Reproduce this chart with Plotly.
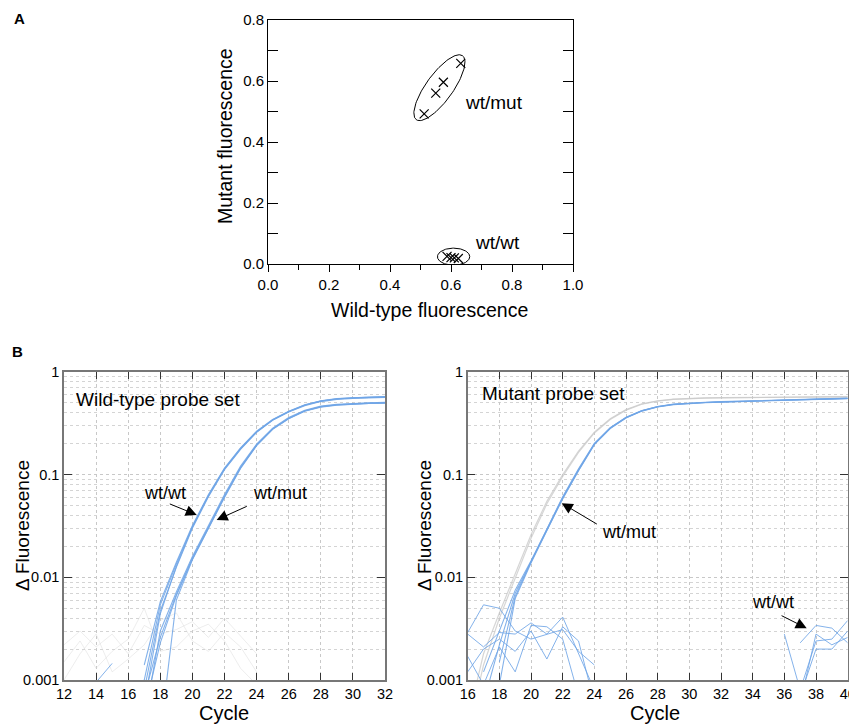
import math
import plotly.graph_objects as go

# ---------------- Panel A data ----------------
wtmut_x = [0.512, 0.550, 0.575, 0.632]
wtmut_y = [0.492, 0.560, 0.596, 0.658]
wtwt_x = [0.587, 0.600, 0.611, 0.624]
wtwt_y = [0.025, 0.021, 0.020, 0.018]

# ---------------- Panel B left (wild-type probe set) ----------------
left_cycles = list(range(12, 33))
left_wtwt = [
    [None, None, None, None, None, 0.0014, 0.0058, 0.0140, 0.032, 0.064, 0.116, 0.182, 0.265, 0.345, 0.415, 0.480, 0.525, 0.550, 0.563, 0.570, 0.575],
    [None, None, None, None, 0.0003, 0.0010, 0.0054, 0.0135, 0.031, 0.062, 0.113, 0.178, 0.260, 0.340, 0.410, 0.475, 0.520, 0.545, 0.558, 0.565, 0.570],
    [None, None, None, None, 0.0002, 0.0008, 0.0047, 0.0125, 0.030, 0.061, 0.112, 0.176, 0.258, 0.338, 0.408, 0.470, 0.515, 0.540, 0.553, 0.560, 0.566],
    [None, None, None, None, 0.0001, 0.0006, 0.0044, 0.0128, 0.031, 0.063, 0.115, 0.180, 0.262, 0.342, 0.412, 0.478, 0.522, 0.548, 0.560, 0.567, 0.572],
]
left_wtmut = [
    [None, None, None, None, 0.0001, 0.0007, 0.0026, 0.0068, 0.0155, 0.031, 0.062, 0.118, 0.195, 0.280, 0.355, 0.420, 0.460, 0.480, 0.490, 0.497, 0.500],
    [None, None, None, None, 0.0001, 0.0005, 0.0023, 0.0066, 0.0150, 0.030, 0.060, 0.115, 0.192, 0.276, 0.350, 0.414, 0.455, 0.476, 0.487, 0.494, 0.498],
    [None, None, None, None, 0.0002, 0.0004, 0.0030, 0.0072, 0.0160, 0.032, 0.064, 0.121, 0.198, 0.284, 0.360, 0.425, 0.465, 0.485, 0.495, 0.502, 0.506],
    [None, None, None, None, None, None, 0.0003, 0.0060, 0.0148, 0.030, 0.061, 0.116, 0.193, 0.278, 0.352, 0.417, 0.458, 0.478, 0.489, 0.495, 0.499],
]
left_noise_cycles = list(range(12, 25))
left_gray_noise = [
    [0.0022, 0.0030, 0.0021, 0.0028, 0.0018, 0.0034, 0.0028, 0.0031, 0.0037, 0.0026, 0.0040, 0.0027, 0.0018],
    [0.0015, 0.0024, 0.0013, 0.0019, 0.0025, 0.0050, 0.0019, 0.0021, 0.0030, 0.0035, 0.0024, 0.0013, 0.0009],
    [0.0010, 0.0018, 0.0028, 0.0012, 0.0016, 0.0022, 0.0038, 0.0045, 0.0024, 0.0019, 0.0029, 0.0021, 0.0012],
]
left_blue_noise_cycles = [14, 15]
left_blue_noise = [0.00095, 0.00145]

# ---------------- Panel B right (mutant probe set) ----------------
right_cycles = list(range(16, 41))
right_gray = [
    [0.0004, 0.0018, 0.0045, 0.011, 0.026, 0.055, 0.100, 0.170, 0.260, 0.350, 0.430, 0.490, 0.525, 0.545, 0.555, 0.560, 0.562, 0.565, 0.567, 0.569, 0.570, 0.572, 0.573, 0.575, 0.576],
    [0.0003, 0.0014, 0.0040, 0.010, 0.024, 0.052, 0.096, 0.165, 0.255, 0.345, 0.425, 0.485, 0.520, 0.541, 0.552, 0.557, 0.560, 0.563, 0.565, 0.567, 0.568, 0.570, 0.571, 0.572, 0.573],
]
right_wtmut = [
    [None, 0.0012, 0.0030, 0.0075, 0.0145, 0.030, 0.060, 0.112, 0.200, 0.285, 0.360, 0.420, 0.460, 0.485, 0.498, 0.505, 0.512, 0.518, 0.523, 0.528, 0.533, 0.538, 0.543, 0.548, 0.553],
    [None, 0.0006, 0.0022, 0.0070, 0.0140, 0.029, 0.058, 0.109, 0.196, 0.281, 0.356, 0.416, 0.456, 0.481, 0.494, 0.502, 0.509, 0.515, 0.520, 0.525, 0.530, 0.535, 0.540, 0.545, 0.550],
    [None, None, 0.0009, 0.0062, 0.0138, 0.029, 0.059, 0.110, 0.198, 0.283, 0.358, 0.418, 0.458, 0.483, 0.496, 0.504, 0.511, 0.517, 0.522, 0.527, 0.532, 0.537, 0.542, 0.547, 0.552],
    [None, None, 0.0015, 0.0065, 0.0142, 0.030, 0.061, 0.114, 0.202, 0.287, 0.362, 0.422, 0.462, 0.487, 0.500, 0.507, 0.514, 0.520, 0.525, 0.530, 0.535, 0.540, 0.545, 0.550, 0.556],
]
right_early_cycles = list(range(16, 25))
right_early_noise = [
    [0.0029, 0.0054, 0.0050, 0.0030, 0.0025, 0.0028, 0.0031, 0.0019, 0.0014],
    [0.0017, 0.0009, 0.0021, 0.0012, 0.0034, 0.0033, 0.0025, 0.0007, None],
    [0.0028, 0.0021, 0.0029, 0.0028, 0.0036, 0.0028, 0.0041, 0.0018, 0.0008],
    [0.0012, 0.0020, 0.0025, 0.0019, 0.0030, 0.0016, 0.0033, 0.0024, 0.0006],
]
right_late_cycles = list(range(36, 41))
right_late_noise = [
    [0.0028, 0.0008, 0.0024, 0.0025, 0.0038],
    [None, 0.0023, 0.0034, 0.0032, 0.0023],
    [0.0004, 0.0007, 0.0020, 0.0020, 0.0030],
    [None, 0.0006, 0.0028, 0.0022, 0.0026],
]

# ---------------- styles ----------------
PAGE_OFF = 8            # default body margin of the page
W, H = 857 - PAGE_OFF, 724 - PAGE_OFF
FONT = "Liberation Sans, Arial, Helvetica, sans-serif"
BLUE = "rgba(110,165,230,0.85)"
GRAYC = "rgba(200,200,200,0.75)"
FAINT = "rgba(215,215,215,0.45)"


def px_x(p):
    return (p - PAGE_OFF) / W


def px_y(p):
    return 1 - (p - PAGE_OFF) / H


fig = go.Figure()

# ---------- Panel A ----------
def ellipse(cx, cy, a, b, th, n=120):
    xs, ys = [], []
    for i in range(n + 1):
        t = 2 * math.pi * i / n
        xs.append(cx + a * math.cos(t) * math.cos(th) - b * math.sin(t) * math.sin(th))
        ys.append(cy + a * math.cos(t) * math.sin(th) + b * math.sin(t) * math.cos(th))
    return xs, ys

dx = wtmut_x[-1] - wtmut_x[0]
dy = wtmut_y[-1] - wtmut_y[0]
cx = (wtmut_x[0] + wtmut_x[-1]) / 2 - 0.01
cy = (wtmut_y[0] + wtmut_y[-1]) / 2 + 0.003
ex, ey = ellipse(cx, cy, math.hypot(dx, dy) / 2 + 0.027, 0.044, math.atan2(dy, dx))
fig.add_trace(go.Scatter(x=ex, y=ey, mode="lines", line=dict(color="black", width=1),
                         xaxis="x", yaxis="y", hoverinfo="skip", showlegend=False))
cx2 = sum(wtwt_x) / len(wtwt_x) + 0.003
cy2 = sum(wtwt_y) / len(wtwt_y) + 0.003
ex, ey = ellipse(cx2, cy2, 0.053, 0.028, 0.0)
fig.add_trace(go.Scatter(x=ex, y=ey, mode="lines", line=dict(color="black", width=1),
                         xaxis="x", yaxis="y", hoverinfo="skip", showlegend=False))

for xs, ys in ((wtmut_x, wtmut_y), (wtwt_x, wtwt_y)):
    fig.add_trace(go.Scatter(x=xs, y=ys, mode="markers",
                             marker=dict(symbol="x-thin-open", size=9, color="black",
                                         line=dict(color="black", width=1.2)),
                             xaxis="x", yaxis="y", showlegend=False))

# ---------- Panel B left ----------
for ys in left_gray_noise:
    fig.add_trace(go.Scatter(x=left_noise_cycles, y=ys, mode="lines", line=dict(color=FAINT, width=1),
                             xaxis="x2", yaxis="y2", showlegend=False))
fig.add_trace(go.Scatter(x=left_blue_noise_cycles, y=left_blue_noise, mode="lines",
                         line=dict(color=BLUE, width=1), xaxis="x2", yaxis="y2", showlegend=False))
for ys in left_wtmut + left_wtwt:
    fig.add_trace(go.Scatter(x=left_cycles, y=ys, mode="lines", line=dict(color=BLUE, width=1.1),
                             xaxis="x2", yaxis="y2", showlegend=False))

# ---------- Panel B right ----------
for ys in right_gray:
    fig.add_trace(go.Scatter(x=right_cycles, y=ys, mode="lines", line=dict(color=GRAYC, width=1.2),
                             xaxis="x3", yaxis="y3", showlegend=False))
for ys in right_early_noise:
    fig.add_trace(go.Scatter(x=right_early_cycles, y=ys, mode="lines", line=dict(color=BLUE, width=1),
                             xaxis="x3", yaxis="y3", showlegend=False))
for ys in right_late_noise:
    fig.add_trace(go.Scatter(x=right_late_cycles, y=ys, mode="lines", line=dict(color=BLUE, width=1),
                             xaxis="x3", yaxis="y3", showlegend=False))
for ys in right_wtmut:
    fig.add_trace(go.Scatter(x=right_cycles, y=ys, mode="lines", line=dict(color=BLUE, width=1.1),
                             xaxis="x3", yaxis="y3", showlegend=False))

# ---------- axes ----------
tickA = dict(family=FONT, size=15, color="black")
tickB = dict(family=FONT, size=14.5, color="black")
grid = dict(gridcolor="#c8c8c8", griddash="dot", gridwidth=1)

axA_x = dict(domain=[px_x(268), px_x(573)], anchor="y", range=[0, 1], dtick=0.2, tick0=0,
             tickformat=".1f", ticks="outside", ticklen=7, tickcolor="black",
             minor=dict(dtick=0.1, ticks="outside", ticklen=5, tickcolor="black"),
             showline=True, linecolor="black", linewidth=1, mirror=True, showgrid=False,
             zeroline=False, tickfont=tickA, automargin=False)
axA_y = dict(domain=[px_y(264), px_y(20)], anchor="x", range=[0, 0.8], dtick=0.2, tick0=0,
             tickformat=".1f", ticks="inside", ticklen=10, tickcolor="black",
             minor=dict(dtick=0.1, ticks="inside", ticklen=10, tickcolor="black"),
             showline=True, linecolor="black", linewidth=1, mirror="ticks", showgrid=False,
             zeroline=False, tickfont=tickA, automargin=False)


def bx(dom, rng, anchor):
    return dict(domain=dom, anchor=anchor, range=rng, dtick=2, tick0=0, ticks="inside", ticklen=7,
                tickcolor="#333", tickwidth=1.3, showline=True, linecolor="#777", linewidth=1.5,
                mirror="ticks", showgrid=True, zeroline=False, tickfont=tickB, automargin=False, **grid)


def by(dom, anchor):
    return dict(domain=dom, anchor=anchor, type="log", range=[-3, 0],
                tickvals=[0.001, 0.01, 0.1, 1], ticktext=["0.001", "0.01", "0.1", "1"],
                ticks="inside", ticklen=8, tickcolor="#333", tickwidth=1.3, showline=True,
                linecolor="#777", linewidth=1.5, mirror="ticks", showgrid=True, zeroline=False,
                tickfont=tickB, automargin=False,
                minor=dict(dtick="D1", showgrid=True, ticklen=0, gridcolor="#d4d4d4", griddash="dot", gridwidth=1),
                **grid)

ydomB = [px_y(680), px_y(372)]
layout = dict(
    width=W, height=H, margin=dict(l=0, r=0, t=0, b=0, autoexpand=False),
    paper_bgcolor="white", plot_bgcolor="white", showlegend=False,
    font=dict(family=FONT, color="black"),
    xaxis=axA_x, yaxis=axA_y,
    xaxis2=bx([px_x(64), px_x(385)], [12, 32], "y2"), yaxis2=by(ydomB, "x2"),
    xaxis3=bx([px_x(467.7), px_x(847.7)], [16, 40], "y3"), yaxis3=by(ydomB, "x3"),
)
fig.update_layout(**layout)

# ---------- annotations ----------
ann = []


def ptext(x, y, text, size, bold=False, angle=0, xanchor="center"):
    t = f"<b>{text}</b>" if bold else text
    ann.append(dict(x=px_x(x), y=px_y(y), xref="paper", yref="paper", text=t, showarrow=False,
                    font=dict(family=FONT, size=size, color="black"), textangle=angle,
                    xanchor=xanchor, yanchor="middle"))

ptext(12, 18, "A", 15, bold=True, xanchor="left")
ptext(10, 351, "B", 15, bold=True, xanchor="left")
ptext(225, 136, "Mutant fluorescence", 19.5, angle=-90)
ptext(429, 310, "Wild-type fluorescence", 19.5)
ptext(22, 526, "Δ Fluorescence", 19, angle=-90)
ptext(424, 526, "Δ Fluorescence", 19, angle=-90)
ptext(224.5, 713, "Cycle", 20)
ptext(655, 713, "Cycle", 20)

def dtext(x, y, text, xr, yr, size=16, xanchor="left"):
    ann.append(dict(x=x, y=y, xref=xr, yref=yr, text=text, showarrow=False,
                    font=dict(family=FONT, size=size, color="black"), xanchor=xanchor, yanchor="middle"))

dtext(0.639, 0.528, "wt/mut", "x", "y", 19)
dtext(0.672, 0.072, "wt/wt", "x", "y", 19)
dtext(12.62, -0.266, "Wild-type probe set", "x2", "y2", 19)
dtext(16.78, -0.207, "Mutant probe set", "x3", "y3", 19)
dtext(18.29, -1.178, "wt/wt", "x2", "y2", 18, "center")
dtext(25.46, -1.178, "wt/mut", "x2", "y2", 18, "center")
dtext(26.19, -1.555, "wt/mut", "x3", "y3", 18, "center")
dtext(35.29, -2.237, "wt/wt", "x3", "y3", 18, "center")


def arrow(hx, hy, tx, ty, xr, yr):
    ann.append(dict(x=hx, y=hy, ax=tx, ay=ty, xref=xr, yref=yr, axref=xr, ayref=yr, text="",
                    showarrow=True, arrowhead=2, arrowsize=2.2, arrowwidth=1, arrowcolor="black",
                    standoff=0, startstandoff=0))

arrow(20.27, -1.392, 18.5, -1.279, "x2", "y2")
arrow(21.51, -1.441, 23.48, -1.302, "x2", "y2")
arrow(21.94, -1.278, 24.25, -1.49, "x3", "y3")
arrow(37.41, -2.496, 35.73, -2.366, "x3", "y3")

fig.update_layout(annotations=ann)
fig.write_html("out.html")
